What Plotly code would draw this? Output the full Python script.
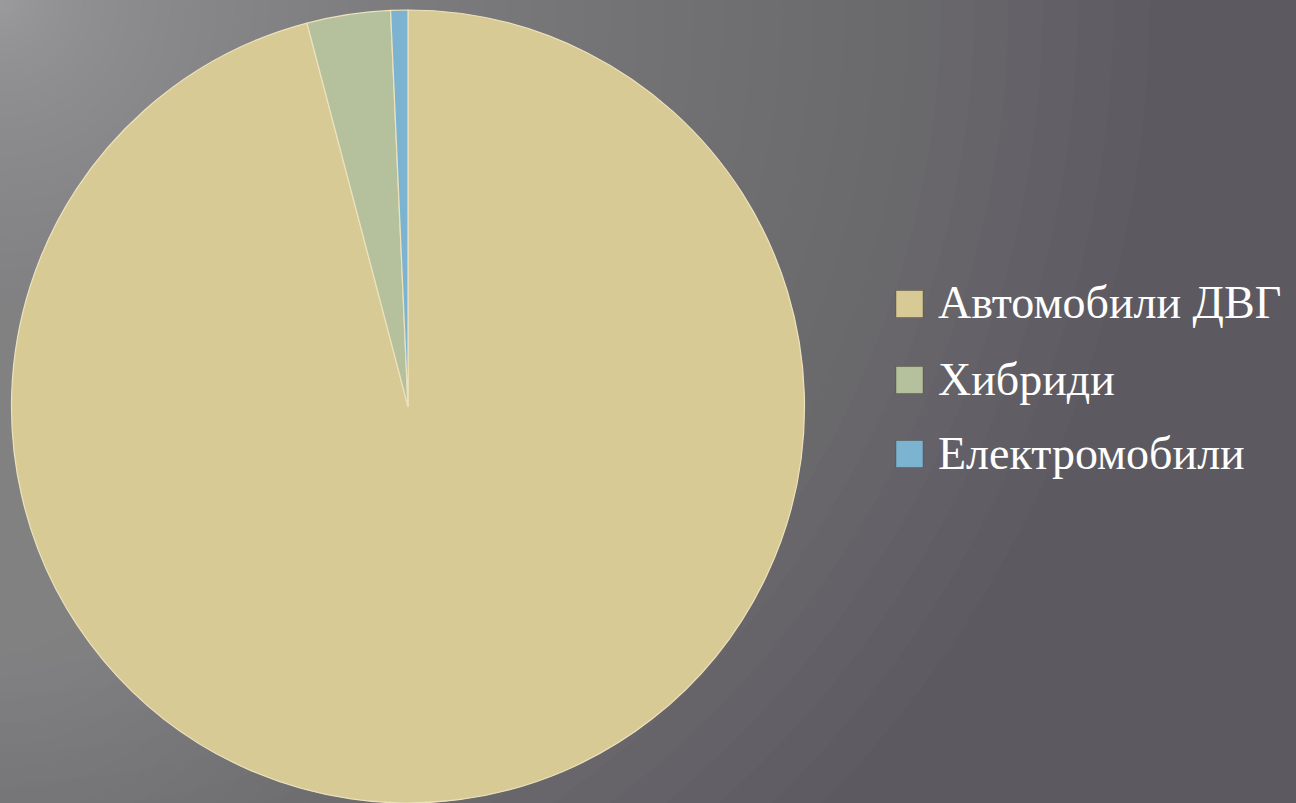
import plotly.graph_objects as go

categories = ["Автомобили ДВГ", "Хибриди", "Електромобили"]
values = [95.9, 3.4, 0.7]
colors = ["#d8ca94", "#b5c19d", "#7cb3d1"]

W, H = 1296, 803

fig = go.Figure()
fig.add_trace(go.Pie(
    labels=categories,
    values=values,
    sort=False,
    direction="clockwise",
    rotation=0,
    marker=dict(colors=colors, line=dict(color="#ece2bd", width=1.2)),
    textinfo="none",
    hoverinfo="label+percent",
    showlegend=False,
    domain=dict(x=[11 / W, 805 / W], y=[0, 1 - 10 / H]),
))

shapes = []
# background radial glow from the top-left corner (smooth stack of translucent discs)
N = 60
for i in range(N, 0, -1):
    r = 1150 * (i / N) ** 1.9
    shapes.append(dict(
        type="circle", xref="paper", yref="paper", layer="below",
        x0=-r / W, x1=r / W, y0=1 - r / H, y1=1 + r / H,
        fillcolor="rgba(205,200,212,0.02)", line=dict(width=0),
    ))
# soft glow along the lower-left edge
for i in range(20, 0, -1):
    r = 450 * (i / 20)
    shapes.append(dict(
        type="circle", xref="paper", yref="paper", layer="below",
        x0=-r / W, x1=r / W, y0=(260 - r) / H, y1=(260 + r) / H,
        fillcolor="rgba(190,186,196,0.014)", line=dict(width=0),
    ))

# legend (manual, larger markers and spacing as in the original)
leg_y = [304, 380, 454]
annotations = []
for name, col, yc in zip(categories, colors, leg_y):
    shapes.append(dict(
        type="rect", xref="paper", yref="paper", layer="above",
        x0=896 / W, x1=923 / W, y0=1 - (yc + 13.5) / H, y1=1 - (yc - 13.5) / H,
        fillcolor=col, line=dict(color="rgba(70,60,40,0.35)", width=1),
    ))
    annotations.append(dict(
        xref="paper", yref="paper", x=936 / W, y=1 - (yc - 1) / H,
        xanchor="left", yanchor="middle", showarrow=False, text=name,
        font=dict(family="Liberation Serif", size=46, color="#ffffff"),
    ))

fig.update_layout(
    width=W, height=H,
    margin=dict(l=0, r=0, t=0, b=0),
    paper_bgcolor="#5c5a60",
    plot_bgcolor="#5c5a60",
    shapes=shapes,
    annotations=annotations,
    showlegend=False,
)

fig.write_html(
    "out.html",
    config={"displayModeBar": False},
    post_script="document.body.style.margin='0px';document.body.style.overflow='hidden';",
)
